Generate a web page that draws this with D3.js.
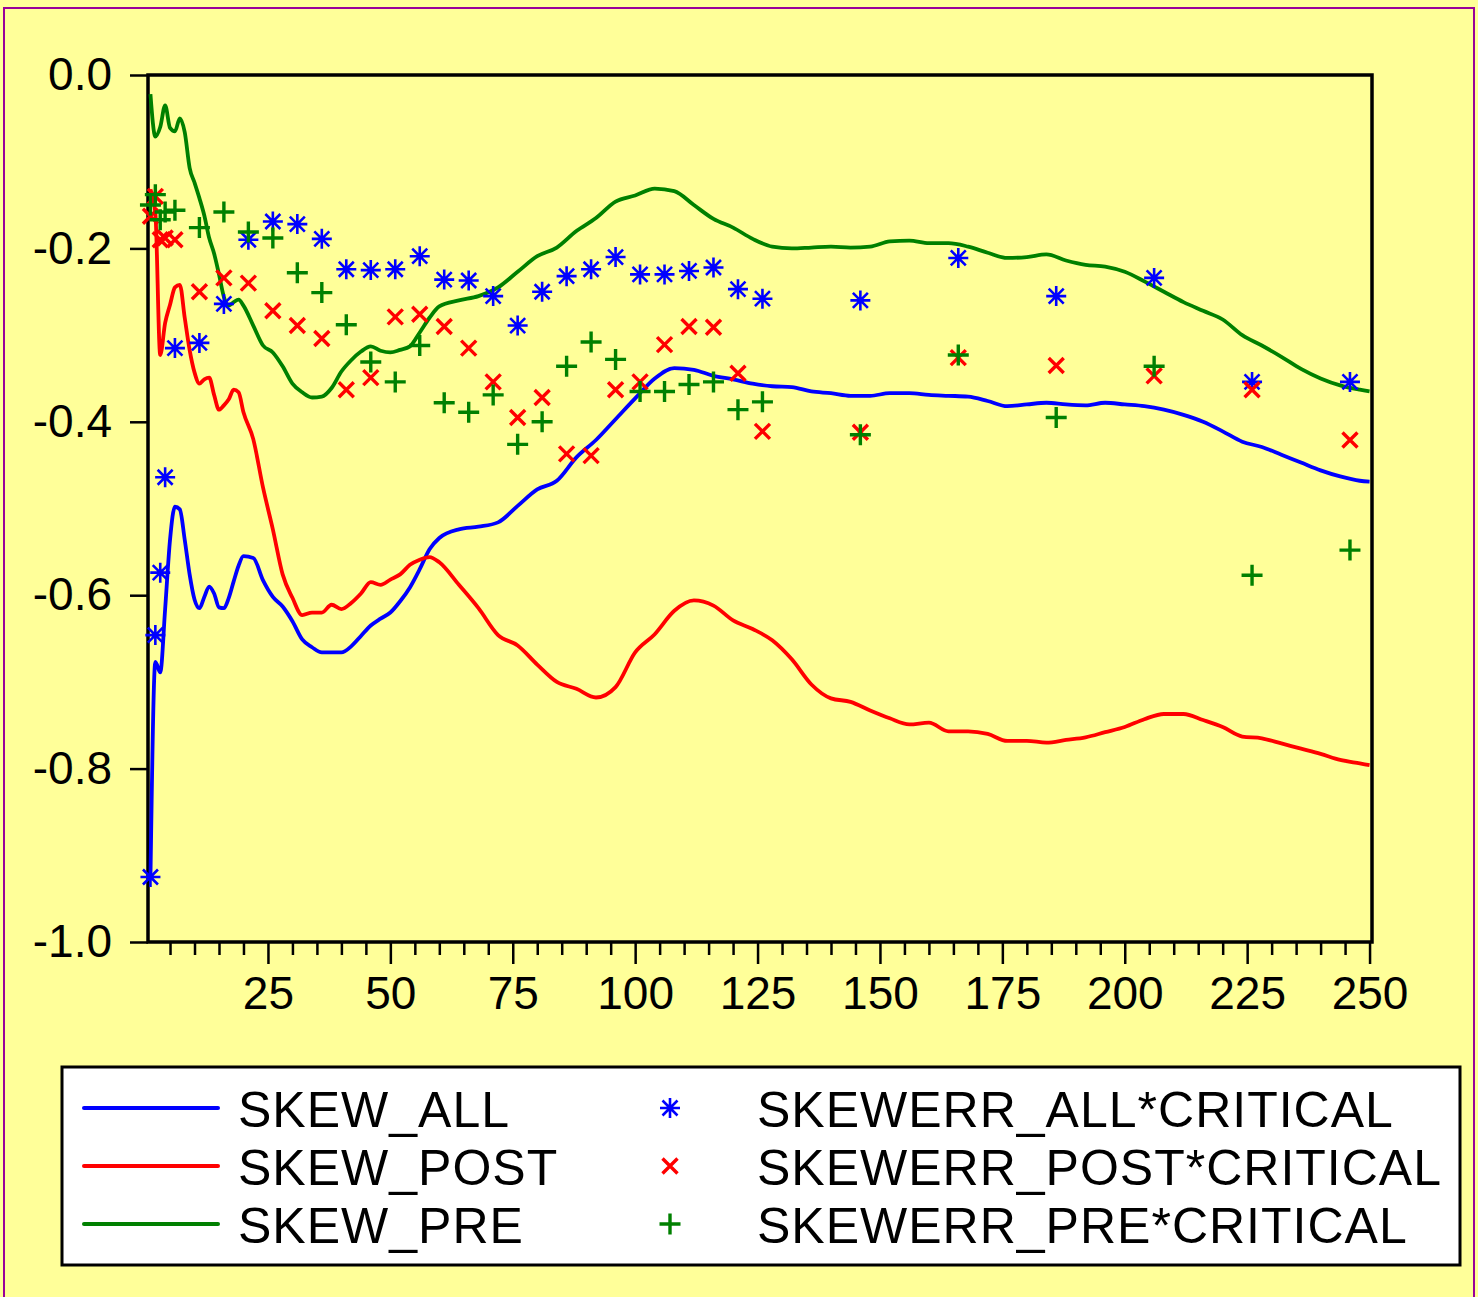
<!DOCTYPE html>
<html>
<head>
<meta charset="utf-8">
<script src="https://cdn.jsdelivr.net/npm/d3@7"></script>
<style>
  body { margin: 0; background: #ffff99; }
  svg { display: block; }
  text { font-family: 'Liberation Sans', Arial, sans-serif; fill: #000; }
</style>
</head>
<body>
<svg id="chart"></svg>
<script>
// observation index for the three line series
var obsLine = [1,2,3,4,5,6,7,8,9,10,11,12,13,14,15,16,17,18,19,20,
  22,24,26,28,30,32,34,36,38,40,42,44,46,48,50,52,54,56,58,60,
  64,68,72,76,80,84,88,92,96,100,104,108,112,116,120,124,128,132,136,140,
  144,148,152,156,160,164,168,172,176,180,184,188,192,196,200,204,208,212,216,220,
  224,228,232,236,240,244,248,250];

var skewAll = [-0.927,-0.677,-0.689,-0.616,-0.536,-0.498,-0.501,-0.536,-0.576,-0.605,-0.615,-0.602,-0.590,-0.598,-0.614,-0.615,-0.603,-0.584,-0.566,-0.555,
  -0.557,-0.583,-0.602,-0.613,-0.630,-0.651,-0.660,-0.666,-0.666,-0.666,-0.659,-0.647,-0.635,-0.627,-0.620,-0.607,-0.591,-0.570,-0.547,-0.534,
  -0.524,-0.521,-0.516,-0.497,-0.478,-0.468,-0.441,-0.421,-0.397,-0.373,-0.350,-0.338,-0.340,-0.347,-0.351,-0.356,-0.359,-0.360,-0.365,-0.367,
  -0.370,-0.370,-0.367,-0.367,-0.369,-0.370,-0.371,-0.376,-0.382,-0.380,-0.378,-0.380,-0.381,-0.378,-0.380,-0.382,-0.386,-0.392,-0.400,-0.411,
  -0.423,-0.429,-0.438,-0.447,-0.456,-0.463,-0.468,-0.469];

var skewPost = [-0.132,-0.159,-0.323,-0.286,-0.265,-0.245,-0.242,-0.280,-0.317,-0.343,-0.356,-0.351,-0.349,-0.369,-0.386,-0.381,-0.374,-0.363,-0.366,-0.389,
  -0.420,-0.476,-0.524,-0.576,-0.603,-0.623,-0.620,-0.620,-0.611,-0.616,-0.609,-0.598,-0.585,-0.588,-0.582,-0.576,-0.565,-0.559,-0.556,-0.562,
  -0.588,-0.615,-0.646,-0.658,-0.680,-0.700,-0.708,-0.718,-0.706,-0.666,-0.645,-0.618,-0.606,-0.612,-0.629,-0.639,-0.652,-0.674,-0.703,-0.719,
  -0.723,-0.733,-0.742,-0.749,-0.747,-0.757,-0.757,-0.760,-0.768,-0.768,-0.770,-0.767,-0.764,-0.758,-0.752,-0.743,-0.737,-0.737,-0.744,-0.752,
  -0.763,-0.765,-0.771,-0.777,-0.783,-0.790,-0.794,-0.796];

var skewPre = [-0.022,-0.071,-0.060,-0.035,-0.061,-0.065,-0.050,-0.066,-0.107,-0.124,-0.142,-0.162,-0.188,-0.206,-0.230,-0.256,-0.266,-0.262,-0.259,-0.266,
  -0.289,-0.312,-0.320,-0.336,-0.356,-0.366,-0.372,-0.371,-0.361,-0.342,-0.329,-0.319,-0.313,-0.318,-0.320,-0.317,-0.313,-0.297,-0.280,-0.267,
  -0.260,-0.255,-0.245,-0.227,-0.209,-0.199,-0.180,-0.165,-0.146,-0.139,-0.131,-0.134,-0.150,-0.166,-0.176,-0.189,-0.198,-0.200,-0.199,-0.198,
  -0.199,-0.198,-0.192,-0.191,-0.194,-0.194,-0.198,-0.205,-0.211,-0.210,-0.207,-0.214,-0.219,-0.221,-0.227,-0.238,-0.250,-0.262,-0.272,-0.282,
  -0.300,-0.312,-0.325,-0.339,-0.350,-0.358,-0.363,-0.365];

// observation index for the marker series
var obsMark = [1,2,3,4,6,11,16,21,26,31,36,41,46,51,56,61,66,71,76,81,86,91,96,101,106,111,116,121,126,146,166,186,206,226,246];

var errAll = [-0.925,-0.646,-0.574,-0.464,-0.315,-0.309,-0.264,-0.190,-0.169,-0.172,-0.189,-0.224,-0.225,-0.224,-0.209,-0.236,-0.237,-0.255,-0.289,-0.250,
  -0.232,-0.224,-0.210,-0.230,-0.230,-0.226,-0.222,-0.247,-0.258,-0.260,-0.211,-0.255,-0.234,-0.354,-0.354];

var errPost = [-0.163,-0.140,-0.190,-0.188,-0.190,-0.250,-0.234,-0.240,-0.272,-0.289,-0.304,-0.363,-0.349,-0.279,-0.276,-0.290,-0.315,-0.354,-0.395,-0.372,
  -0.437,-0.439,-0.363,-0.354,-0.311,-0.290,-0.291,-0.344,-0.411,-0.412,-0.326,-0.335,-0.347,-0.363,-0.421];

var errPre = [-0.150,-0.138,-0.167,-0.158,-0.156,-0.176,-0.158,-0.181,-0.188,-0.228,-0.251,-0.288,-0.331,-0.354,-0.312,-0.378,-0.389,-0.369,-0.426,-0.400,
  -0.336,-0.308,-0.328,-0.365,-0.365,-0.357,-0.354,-0.386,-0.377,-0.415,-0.323,-0.395,-0.336,-0.577,-0.548];

var lineNames = ['SKEW_ALL', 'SKEW_POST', 'SKEW_PRE'];
var markNames = ['SKEWERR_ALL*CRITICAL', 'SKEWERR_POST*CRITICAL', 'SKEWERR_PRE*CRITICAL'];
var colors = ['#0000ff', '#ff0000', '#008000'];
var yTicks = [0, -0.2, -0.4, -0.6, -0.8, -1.0];
var xMajor = [25, 50, 75, 100, 125, 150, 175, 200, 225, 250];

var W = 1478, H = 1297;
var pLeft = 148, pRight = 1372, pTop = 75, pBottom = 942;

var svg = d3.select('#chart').attr('width', W).attr('height', H);
svg.append('rect').attr('width', W).attr('height', H).attr('fill', '#ffff99');
svg.append('rect').attr('x', 4).attr('y', 8).attr('width', 1470).attr('height', 1310)
  .attr('fill', 'none').attr('stroke', '#990099').attr('stroke-width', 2);

var x = d3.scaleLinear().domain([0.5, 250.5]).range([pLeft, pRight]);
var y = d3.scaleLinear().domain([-1, 0]).range([pBottom, pTop]);

// axes
var minor = d3.range(5, 251, 5).filter(function(d){ return xMajor.indexOf(d) < 0; });
var gxMinor = svg.append('g').attr('transform', 'translate(0,' + pBottom + ')')
  .call(d3.axisBottom(x).tickValues(minor).tickSize(13).tickFormat(''));
var gxMajor = svg.append('g').attr('transform', 'translate(0,' + pBottom + ')')
  .call(d3.axisBottom(x).tickValues(xMajor).tickSize(22).tickPadding(12).tickFormat(function(d){ return d; }));
var gy = svg.append('g').attr('transform', 'translate(' + pLeft + ',0)')
  .call(d3.axisLeft(y).tickValues(yTicks).tickSize(18).tickPadding(18)
    .tickFormat(function(d){ return d === 0 ? '0.0' : d.toFixed(1); }));
[gxMinor, gxMajor, gy].forEach(function(g){
  g.select('.domain').remove();
  g.selectAll('line').attr('stroke', '#000').attr('stroke-width', 2.5);
  g.selectAll('text').attr('font-size', 46).attr('font-family', 'Liberation Sans, Arial, sans-serif').attr('fill', '#000');
});

// plot frame
svg.append('rect').attr('x', pLeft).attr('y', pTop).attr('width', pRight - pLeft).attr('height', pBottom - pTop)
  .attr('fill', 'none').attr('stroke', '#000').attr('stroke-width', 3.5);

var plot = svg.append('g');
var line = d3.line().x(function(d){ return x(d[0]); }).y(function(d){ return y(d[1]); }).curve(d3.curveMonotoneX);
[skewAll, skewPost, skewPre].forEach(function(vals, i){
  plot.append('path')
    .datum(obsLine.map(function(o, k){ return [o, vals[k]]; }))
    .attr('d', line)
    .attr('fill', 'none').attr('stroke', colors[i]).attr('stroke-width', 3.8).attr('stroke-linejoin', 'round');
});

// marker shapes
function markPath(type, cx, cy) {
  var p = d3.path();
  if (type === 0) {
    var r = 10, q = 7.5;
    p.moveTo(cx, cy - r); p.lineTo(cx, cy + r);
    p.moveTo(cx - r, cy); p.lineTo(cx + r, cy);
    p.moveTo(cx - q, cy - q); p.lineTo(cx + q, cy + q);
    p.moveTo(cx - q, cy + q); p.lineTo(cx + q, cy - q);
  } else if (type === 1) {
    var s = 7.5;
    p.moveTo(cx - s, cy - s); p.lineTo(cx + s, cy + s);
    p.moveTo(cx - s, cy + s); p.lineTo(cx + s, cy - s);
  } else {
    var t = 10.5;
    p.moveTo(cx, cy - t); p.lineTo(cx, cy + t);
    p.moveTo(cx - t, cy); p.lineTo(cx + t, cy);
  }
  return p.toString();
}

[errAll, errPost, errPre].forEach(function(vals, i){
  plot.selectAll('.m' + i)
    .data(obsMark.map(function(o, k){ return [o, vals[k]]; }))
    .enter().append('path')
    .attr('class', 'm' + i)
    .attr('d', function(d){ return markPath(i, x(d[0]), y(d[1])); })
    .attr('fill', 'none').attr('stroke', colors[i])
    .attr('stroke-width', i === 0 ? 2.6 : 3.4);
});

// legend
var legend = svg.append('g');
legend.append('rect').attr('x', 62).attr('y', 1067).attr('width', 1398).attr('height', 198)
  .attr('fill', '#fff').attr('stroke', '#000').attr('stroke-width', 3);
var rowY = [1108, 1166, 1224];
lineNames.forEach(function(name, i){
  legend.append('line').attr('x1', 84).attr('x2', 218).attr('y1', rowY[i]).attr('y2', rowY[i])
    .attr('stroke', colors[i]).attr('stroke-width', 4).attr('stroke-linecap', 'round');
  legend.append('text').attr('x', 238).attr('y', rowY[i] + 19).attr('font-size', 50)
    .attr('letter-spacing', 1).text(name);
  legend.append('path').attr('d', markPath(i, 670, rowY[i]))
    .attr('fill', 'none').attr('stroke', colors[i]).attr('stroke-width', i === 0 ? 2.6 : 3.4);
  legend.append('text').attr('x', 757).attr('y', rowY[i] + 19).attr('font-size', 50)
    .attr('letter-spacing', 1).text(markNames[i]);
});
</script>
</body>
</html>
